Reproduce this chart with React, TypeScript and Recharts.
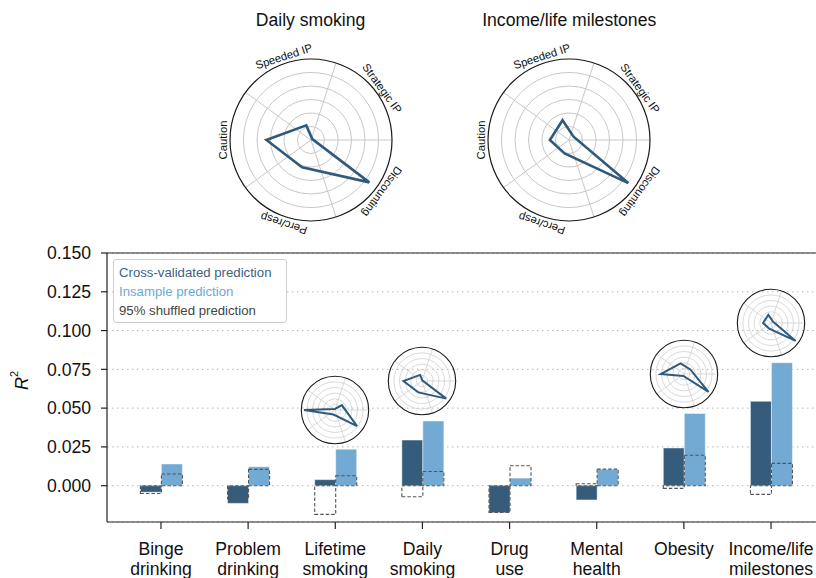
import React from "react"
import {
  ComposedChart,
  Bar,
  XAxis,
  YAxis,
  CartesianGrid,
  ReferenceLine,
  ReferenceDot,
  Legend,
  RadarChart,
  Radar,
  PolarGrid,
  PolarAngleAxis,
  PolarRadiusAxis,
} from "recharts"

// bar chart values (R^2)
const categories = [
  "Binge drinking",
  "Problem drinking",
  "Lifetime smoking",
  "Daily smoking",
  "Drug use",
  "Mental health",
  "Obesity",
  "Income/life milestones",
]
const crossValidated = [-0.0042, -0.0114, 0.0039, 0.0294, -0.0174, -0.0092, 0.0243, 0.0544]
const insample = [0.014, 0.0122, 0.0235, 0.0417, 0.0049, 0.0106, 0.0466, 0.0793]
const shuffledCross = [-0.005, -0.0084, -0.0185, -0.0071, -0.0172, 0.0013, -0.0017, -0.0056]
const shuffledInsample = [0.0075, 0.0105, 0.0064, 0.0092, 0.0129, 0.0107, 0.0196, 0.0144]
const yTicks = [0, 0.025, 0.05, 0.075, 0.1, 0.125, 0.15]

// radar profiles
const profileAxes = ["Speeded IP", "Strategic IP", "Discounting", "Perc/resp", "Caution"]
const dailySmokingProfile = [0.19, 0.02, 0.89, 0.355, 0.55]
const incomeProfile = [0.257, 0.07, 0.905, 0.175, 0.236]
const lifetimeSmokingProfile = [0.03, 0.25, 0.81, 0.14, 0.92]
const obesityProfile = [0.33, 0.23, 0.9, 0.06, 0.69]

// which bars get a small radar, and the R^2 level its centre sits at
const insetCategories = ["Lifetime smoking", "Daily smoking", "Obesity", "Income/life milestones"]
const insetProfiles = [lifetimeSmokingProfile, dailySmokingProfile, obesityProfile, incomeProfile]
const insetLevels = [0.049, 0.0677, 0.072, 0.105]

const DARK = "#365c7c"
const LIGHT = "#72aad3"
const LINE = "#2f5a7c"
const FONT = "'Liberation Sans', Arial, Helvetica, sans-serif"

const rows = categories.map((name, i) => ({
  name,
  cv: crossValidated[i],
  ins: insample[i],
  shufCv: shuffledCross[i],
  shufIns: shuffledInsample[i],
}))

const toProfile = (values: number[]) => profileAxes.map((axis, i) => ({ axis, value: values[i] }))

const ringRadii = (r: number) => [1, 2, 3, 4, 5].map((k) => (r * k) / 6)

function ProfileRadar({ values, size, r, lineWidth, labels }: any) {
  const c = size / 2
  const angleTick = (props: any) => {
    const angle = props.payload.coordinate
    const rad = (-angle * Math.PI) / 180
    const x = c + (r + 3) * Math.cos(rad)
    const y = c + (r + 3) * Math.sin(rad)
    return (
      <text x={x} y={y} transform={`rotate(${90 - angle} ${x} ${y})`} textAnchor="middle" fontSize={11.3} fill="#111" fontFamily={FONT}>
        {props.payload.value}
      </text>
    )
  }
  return (
    <RadarChart
      width={size}
      height={size}
      cx={c}
      cy={c}
      outerRadius={r}
      data={toProfile(values)}
      startAngle={108}
      endAngle={-252}
      margin={{ top: 0, right: 0, bottom: 0, left: 0 }}
    >
      <PolarGrid
        gridType="circle"
        polarRadius={ringRadii(r)}
        polarAngles={[0, 72, 144, 216, 288]}
        stroke="#c8c8c8"
        strokeWidth={labels ? 1 : 0.7}
      />
      <PolarRadiusAxis domain={[0, 1]} tick={false} axisLine={false} />
      <PolarAngleAxis
        dataKey="axis"
        axisLineType="circle"
        axisLine={{ stroke: "#1a1a1a", strokeWidth: labels ? 1.2 : 1.1 }}
        tickLine={false}
        tick={labels ? angleTick : false}
      />
      <Radar
        dataKey="value"
        stroke={LINE}
        strokeWidth={lineWidth}
        fill="none"
        dot={false}
        isAnimationActive={false}
      />
    </RadarChart>
  )
}

function TopRadar({ title, values, centerX }: any) {
  const size = 250
  return (
    <div style={{ position: "absolute", left: centerX - size / 2, top: 0, width: size, height: 240 }}>
      <div
        style={{
          position: "absolute",
          top: 9,
          width: size,
          textAlign: "center",
          fontSize: 17.6,
          lineHeight: "22px",
          color: "#111",
          fontFamily: FONT,
        }}
      >
        {title}
      </div>
      <div style={{ position: "absolute", top: 139.7 - size / 2, left: 0 }}>
        <ProfileRadar values={values} size={size} r={81} lineWidth={2.6} labels />
      </div>
    </div>
  )
}

const XTick = (props: any) => {
  const { x, y, payload } = props
  const label: string = payload.value
  const cut = label.indexOf(" ")
  const lines = cut < 0 ? [label] : [label.slice(0, cut), label.slice(cut + 1)]
  return (
    <g>
      {lines.map((line, i) => (
        <text key={i} x={x} y={y + 23.5 + i * 20.8} textAnchor="middle" fontSize={17.6} fill="#111" fontFamily={FONT}>
          {line}
        </text>
      ))}
    </g>
  )
}

const YLabel = (props: any) => {
  const vb = props.viewBox || { x: 0, y: 253, width: 107, height: 269 }
  const x = 22
  const y = vb.y + vb.height / 2 - 7
  return (
    <text x={x} y={y} transform={`rotate(-90 ${x} ${y})`} textAnchor="middle" dominantBaseline="central" fontSize={18} fill="#111" fontFamily={FONT}>
      <tspan fontStyle="italic">R</tspan>
      <tspan fontSize={11} dy={-8}>2</tspan>
    </text>
  )
}

const legendItems = [
  { label: "Cross-validated prediction", color: "#3d6283" },
  { label: "Insample prediction", color: "#6aa9d6" },
  { label: "95% shuffled prediction", color: "#444" },
]

const LegendBox = () => (
  <div
    style={{
      boxSizing: "border-box",
      width: 174,
      height: 64,
      padding: "3px 0 0 5px",
      border: "1px solid #cfcfcf",
      borderRadius: 3,
      background: "rgba(255,255,255,0.85)",
      fontFamily: FONT,
      fontSize: 13.2,
      lineHeight: "19px",
    }}
  >
    {legendItems.map((item) => (
      <div key={item.label} style={{ color: item.color, whiteSpace: "nowrap" }}>
        {item.label}
      </div>
    ))}
  </div>
)

export default function App() {
  const pad = { left: 10.4, right: 10.4 }
  return (
    <div
      style={{
        position: "absolute",
        left: 0,
        top: 0,
        width: 816,
        height: 578,
        overflow: "hidden",
        background: "#fff",
        fontFamily: FONT,
      }}
    >
      <ComposedChart
        width={830}
        height={578}
        data={rows}
        margin={{ top: 253, right: 5, bottom: 0, left: 0 }}
        barGap={0}
        barSize={21}
      >
        <CartesianGrid horizontal vertical={false} stroke="#b5b5b5" strokeDasharray="1.5 3.5" />
        <XAxis
          dataKey="name"
          interval={0}
          height={56}
          padding={pad}
          tickSize={7}
          axisLine={{ stroke: "#222", strokeWidth: 1.2 }}
          tickLine={{ stroke: "#222", strokeWidth: 1.2 }}
          tick={XTick}
        />
        <XAxis xAxisId="shuf" dataKey="name" hide padding={pad} />
        <YAxis
          type="number"
          width={107}
          domain={[-0.0234, 0.15]}
          ticks={yTicks}
          allowDataOverflow
          tickFormatter={(v: number) => v.toFixed(3)}
          tickSize={6}
          tickMargin={10}
          axisLine={{ stroke: "#222", strokeWidth: 1.2 }}
          tickLine={{ stroke: "#222", strokeWidth: 1.2 }}
          tick={{ fontSize: 17.6, fill: "#111", fontFamily: FONT }}
          label={YLabel}
        />
        <ReferenceLine y={0.15} stroke="#222" strokeWidth={1.2} />
        <Bar dataKey="cv" name="Cross-validated prediction" fill={DARK} stroke="#fff" strokeOpacity={0.45} strokeWidth={1} isAnimationActive={false} />
        <Bar dataKey="ins" name="Insample prediction" fill={LIGHT} stroke="#fff" strokeOpacity={0.45} strokeWidth={1} isAnimationActive={false} />
        <Bar
          xAxisId="shuf"
          dataKey="shufCv"
          name="95% shuffled prediction"
          fill="none"
          stroke="#555"
          strokeWidth={1.1}
          strokeDasharray="3.5 2"
          isAnimationActive={false}
        />
        <Bar
          xAxisId="shuf"
          dataKey="shufIns"
          legendType="none"
          fill="none"
          stroke="#555"
          strokeWidth={1.1}
          strokeDasharray="3.5 2"
          isAnimationActive={false}
        />
        {insetCategories.map((cat, i) => (
          <ReferenceDot
            key={cat}
            x={cat}
            y={insetLevels[i]}
            r={34}
            shape={(p: any) => (
              <foreignObject x={p.cx - 36} y={p.cy - 36} width={72} height={72}>
                <ProfileRadar values={insetProfiles[i]} size={72} r={33.7} lineWidth={2} labels={false} />
              </foreignObject>
            )}
          />
        ))}
        <Legend
          layout="vertical"
          align="center"
          verticalAlign="middle"
          content={LegendBox}
          wrapperStyle={{ left: 113, top: 259, width: 174, height: 64 }}
        />
      </ComposedChart>
      <TopRadar title="Daily smoking" values={dailySmokingProfile} centerX={310.5} />
      <TopRadar title="Income/life milestones" values={incomeProfile} centerX={569.2} />
    </div>
  )
}
